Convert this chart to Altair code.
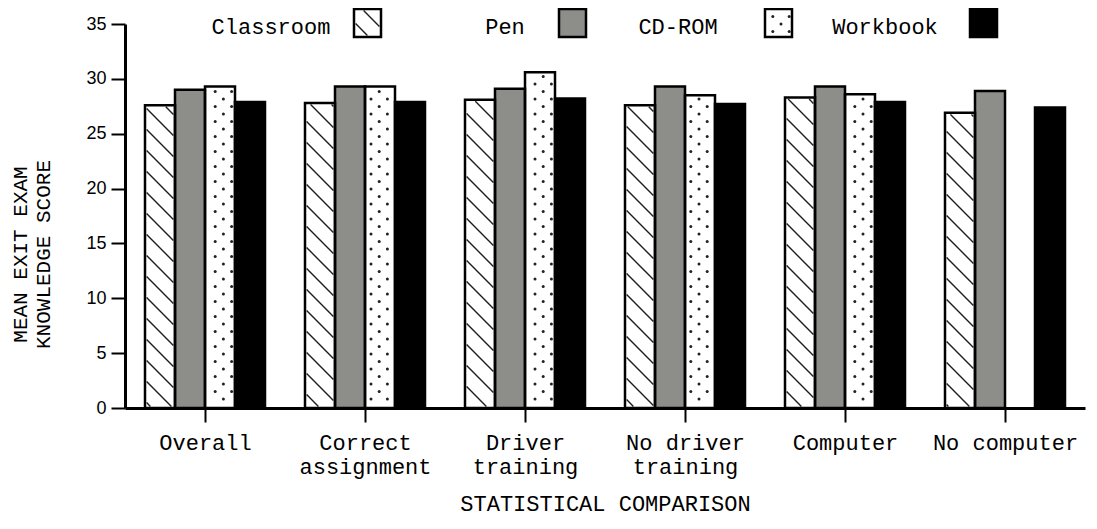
import math
import altair as alt
import pandas as pd

# ---------------- data ----------------
categories = ["Overall", "Correct\nassignment", "Driver\ntraining",
              "No driver\ntraining", "Computer", "No computer"]
series = ["Classroom", "Pen", "CD-ROM", "Workbook"]
classroom = [27.6, 27.8, 28.1, 27.6, 28.3, 26.9]
pen = [29.0, 29.3, 29.1, 29.3, 29.3, 28.9]
cdrom = [29.3, 29.3, 30.6, 28.5, 28.6, None]
workbook = [27.9, 27.9, 28.2, 27.7, 27.9, 27.4]
y_ticks = [0, 5, 10, 15, 20, 25, 30, 35]
y_title = ["MEAN EXIT EXAM", "KNOWLEDGE SCORE"]
x_title = "STATISTICAL COMPARISON"

# ---------------- styling / layout ----------------
fills = ["white", "#8d8e8a", "white", "black"]
patterns = ["hatch", None, "dots", None]
MONO = "Liberation Mono"
SANS = "Liberation Sans"
W, H = 960, 384
YMAX = 35
NCAT = len(categories)
PX_X = W / NCAT
PX_Y = H / YMAX
GROUP_PAD = 0.125
BAR_W = (1 - 2 * GROUP_PAD) / len(series)
HATCH_S = 21.0
DOT_DX, DOT_DY = 8.2, 7.5


def hatch_segments(left, right, top, bottom, inset=1.6):
    l, r, t, b = left + inset, right - inset, top + inset, bottom - inset
    segs = []
    if r <= l or b <= t:
        return segs
    n0 = math.floor((t - r) / HATCH_S)
    n1 = math.ceil((b - l) / HATCH_S)
    for n in range(n0, n1 + 1):
        k = n * HATCH_S
        lo = max(l, t - k)
        hi = min(r, b - k)
        if hi - lo > 0.8:
            segs.append((lo, lo + k, hi, hi + k))
    return segs


def dot_points(left, right, top, bottom, inset=2.2):
    l, r, t, b = left + inset, right - inset, top + inset, bottom - inset
    pts = []
    i0, i1 = math.ceil(l / DOT_DX), math.floor(r / DOT_DX)
    j0, j1 = math.ceil(t / DOT_DY), math.floor(b / DOT_DY)
    for i in range(i0, i1 + 1):
        for j in range(j0, j1 + 1):
            if (i + j) % 2 == 0:
                pts.append((i * DOT_DX, j * DOT_DY))
    return pts


values = [classroom, pen, cdrom, workbook]
bar_rows, hatch_rows, dot_rows = [], [], []
for c in range(NCAT):
    for j, s in enumerate(series):
        v = values[j][c]
        if v is None:
            continue
        x0 = c + GROUP_PAD + j * BAR_W
        x1 = x0 + BAR_W
        bar_rows.append({"series": s, "x0": x0, "x1": x1, "value": v, "zero": 0})
        left, right = x0 * PX_X, x1 * PX_X
        top, bottom = H - v * PX_Y, H
        if patterns[j] == "hatch":
            for (ax, ay, bx, by) in hatch_segments(left, right, top, bottom):
                hatch_rows.append({"hx": ax / PX_X, "hy": (H - ay) / PX_Y,
                                   "hx2": bx / PX_X, "hy2": (H - by) / PX_Y})
        elif patterns[j] == "dots":
            for (px, py) in dot_points(left, right, top, bottom):
                dot_rows.append({"dx": px / PX_X, "dy": (H - py) / PX_Y})

bars_df = pd.DataFrame(bar_rows)
hatch_df = pd.DataFrame(hatch_rows)
dots_df = pd.DataFrame(dot_rows)

# legend (pixel layout relative to plot origin)
leg_sw_left = [229, 434, 640, 845]
leg_txt_x = [146, 380, 553, 760]
SW_W, SW_TOP, SW_BOT, TXT_Y = 27, -15, 13, 3
leg_rows, leg_hatch, leg_dots = [], [], []
for j, s in enumerate(series):
    l = leg_sw_left[j]
    leg_rows.append({"series": s, "lx": l, "lx2": l + SW_W, "ly": SW_TOP,
                     "ly2": SW_BOT, "tx": leg_txt_x[j], "ty": TXT_Y})
    if patterns[j] == "hatch":
        for (ax, ay, bx, by) in hatch_segments(l, l + SW_W, SW_TOP, SW_BOT):
            leg_hatch.append({"a": ax, "b": ay, "a2": bx, "b2": by})
    elif patterns[j] == "dots":
        for (px, py) in dot_points(l, l + SW_W, SW_TOP, SW_BOT):
            leg_dots.append({"a": px, "b": py})
leg_df = pd.DataFrame(leg_rows)
leg_hatch_df = pd.DataFrame(leg_hatch)
leg_dots_df = pd.DataFrame(leg_dots)

# ---------------- scales & axes ----------------
arr = "[" + ",".join(
    "[" + ",".join("'" + p + "'" for p in cat.split("\n")) + "]" for cat in categories
) + "]"
label_expr = f"{arr}[floor(datum.value)]"

xscale = alt.Scale(domain=[0, NCAT], nice=False, zero=False)
yscale = alt.Scale(domain=[0, YMAX], nice=False)

xaxis = alt.Axis(
    values=[c + 0.5 for c in range(NCAT)], labelExpr=label_expr,
    title=x_title, grid=False, labelFont=MONO, labelFontSize=22,
    labelColor="black", labelPadding=10, labelLineHeight=24,
    labelOverlap=False, labelFlush=False, labelBound=False,
    tickSize=14, tickWidth=2, tickColor="black",
    domainWidth=3, domainColor="black",
    titleFont=MONO, titleFontSize=22, titleFontWeight="normal",
    titleColor="black", titleY=95, titleBaseline="middle",
)
yaxis = alt.Axis(
    values=y_ticks, title=y_title, grid=False, labelFont=SANS,
    labelFontSize=18, labelColor="black", labelPadding=5,
    tickSize=14, tickWidth=2, tickColor="black",
    domainWidth=3, domainColor="black",
    titleFont=MONO, titleFontSize=21, titleFontWeight="normal",
    titleColor="black", titleAngle=270, titleX=-105, titleY=230,
    titleAlign="center", titleBaseline="middle", titleLineHeight=23,
)


def X(f):
    return alt.X(f"{f}:Q", scale=xscale, axis=xaxis)


def Y(f):
    return alt.Y(f"{f}:Q", scale=yscale, axis=yaxis)


def PX(f):
    return alt.X(f"{f}:Q", scale=None, axis=None)


def PY(f):
    return alt.Y(f"{f}:Q", scale=None, axis=None)


fill_enc = alt.Fill("series:N", scale=alt.Scale(domain=series, range=fills), legend=None)

bar_fill = alt.Chart(bars_df).mark_rect(strokeWidth=0).encode(
    x=X("x0"), x2=alt.X2("x1"), y=Y("value"), y2=alt.Y2("zero"), fill=fill_enc)
bar_hatch = alt.Chart(hatch_df).mark_rule(color="#1e1e1e", strokeWidth=1.4).encode(
    x=X("hx"), y=Y("hy"), x2=alt.X2("hx2"), y2=alt.Y2("hy2"))
bar_dots = alt.Chart(dots_df).mark_circle(size=9, color="#222222", opacity=1).encode(
    x=X("dx"), y=Y("dy"))
bar_line = alt.Chart(bars_df).mark_rect(fillOpacity=0, stroke="black", strokeWidth=2.5).encode(
    x=X("x0"), x2=alt.X2("x1"), y=Y("value"), y2=alt.Y2("zero"))

leg_fill = alt.Chart(leg_df).mark_rect(strokeWidth=0).encode(
    x=PX("lx"), x2=alt.X2("lx2"), y=PY("ly"), y2=alt.Y2("ly2"), fill=fill_enc)
leg_h = alt.Chart(leg_hatch_df).mark_rule(color="#1e1e1e", strokeWidth=1.4).encode(
    x=PX("a"), y=PY("b"), x2=alt.X2("a2"), y2=alt.Y2("b2"))
leg_d = alt.Chart(leg_dots_df).mark_circle(size=9, color="#222222", opacity=1).encode(
    x=PX("a"), y=PY("b"))
leg_line = alt.Chart(leg_df).mark_rect(fillOpacity=0, stroke="black", strokeWidth=2.5).encode(
    x=PX("lx"), x2=alt.X2("lx2"), y=PY("ly"), y2=alt.Y2("ly2"))
leg_text = alt.Chart(leg_df).mark_text(font=MONO, fontSize=22, align="center",
                                       baseline="middle", color="black").encode(
    x=PX("tx"), y=PY("ty"), text="series:N")

chart = alt.layer(
    bar_fill, bar_hatch, bar_dots, bar_line,
    leg_fill, leg_h, leg_d, leg_line, leg_text,
).properties(
    width=W, height=H,
    autosize=alt.AutoSizeParams(type="none"),
    padding={"left": 117, "top": 16, "right": 4, "bottom": 113},
    background="white",
).configure_view(stroke=None)

chart.save("out.html", embed_options={"renderer": "svg", "actions": False})
